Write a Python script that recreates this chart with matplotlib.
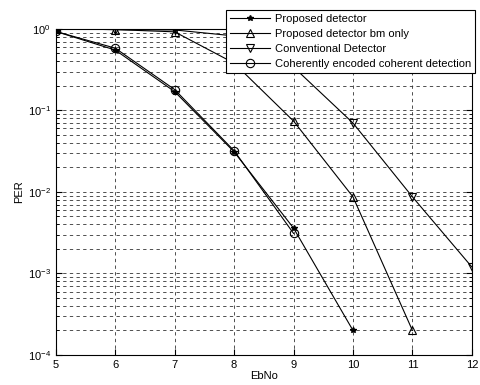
import matplotlib
matplotlib.use("Agg")
import matplotlib.pyplot as plt
from matplotlib.ticker import LogLocator, NullFormatter, FixedLocator

plt.rcParams['font.family'] = ['Liberation Sans', 'DejaVu Sans']
plt.rcParams['mathtext.fontset'] = 'custom'
plt.rcParams['mathtext.rm'] = 'Liberation Sans'

ebno_prop = [5, 6, 7, 8, 9, 10]
per_prop = [0.93, 0.55, 0.17, 0.031, 0.0036, 2.0e-4]

ebno_bm = [5, 6, 7, 8, 9, 10, 11]
per_bm = [1.0, 0.98, 0.92, 0.38, 0.074, 0.0087, 2.0e-4]

ebno_conv = [5, 6, 7, 8, 9, 10, 11, 12]
per_conv = [1.0, 0.98, 0.97, 0.82, 0.34, 0.070, 0.0087, 0.0012]

ebno_coh = [5, 6, 7, 8, 9]
per_coh = [0.93, 0.58, 0.18, 0.032, 0.0031]

labels = ['Proposed detector', 'Proposed detector bm only',
          'Conventional Detector', 'Coherently encoded coherent detection']
xticks = [5, 6, 7, 8, 9, 10, 11, 12]

fig = plt.figure(figsize=(4.81, 3.85), dpi=100)
ax = fig.add_axes([0.116, 0.078, 0.865, 0.847])

lw = 0.8
ax.semilogy(ebno_prop, per_prop, color='black', lw=lw, marker='*', ms=4, label=labels[0])
ax.semilogy(ebno_bm, per_bm, color='black', lw=lw, marker='^', ms=6, mfc='none', mew=0.8, label=labels[1])
ax.semilogy(ebno_conv, per_conv, color='black', lw=lw, marker='v', ms=6, mfc='none', mew=0.8, label=labels[2])
ax.semilogy(ebno_coh, per_coh, color='black', lw=lw, marker='o', ms=6, mfc='none', mew=0.8, label=labels[3])

ax.set_xlim(5, 12)
ax.set_ylim(1e-4, 1)
ax.xaxis.set_major_locator(FixedLocator(xticks))
ax.yaxis.set_major_locator(LogLocator(base=10, numticks=10))
ax.yaxis.set_minor_locator(LogLocator(base=10, subs=range(2, 10), numticks=20))
ax.yaxis.set_minor_formatter(NullFormatter())

ax.grid(True, which='major', axis='both', color='#333333', lw=0.6, ls=(0, (4, 4)))
ax.grid(True, which='minor', axis='y', color='#333333', lw=0.6, ls=(0, (4, 4)))

ax.tick_params(which='both', direction='in', top=True, right=True, labelsize=8)
ax.tick_params(which='major', length=4)
ax.tick_params(which='minor', length=2)
for s in ax.spines.values():
    s.set_linewidth(0.8)

ax.set_xlabel('EbNo', fontsize=8, labelpad=1)
ax.set_ylabel('PER', fontsize=8, labelpad=3)

leg = fig.legend(loc='upper right', bbox_to_anchor=(1.0, 0.988), fontsize=8,
                 frameon=True, fancybox=False, edgecolor='black', framealpha=1,
                 handlelength=3.6, labelspacing=0.45, borderpad=0.35, handletextpad=0.5)
leg.get_frame().set_linewidth(0.8)

fig.savefig('out.png', dpi=100)
